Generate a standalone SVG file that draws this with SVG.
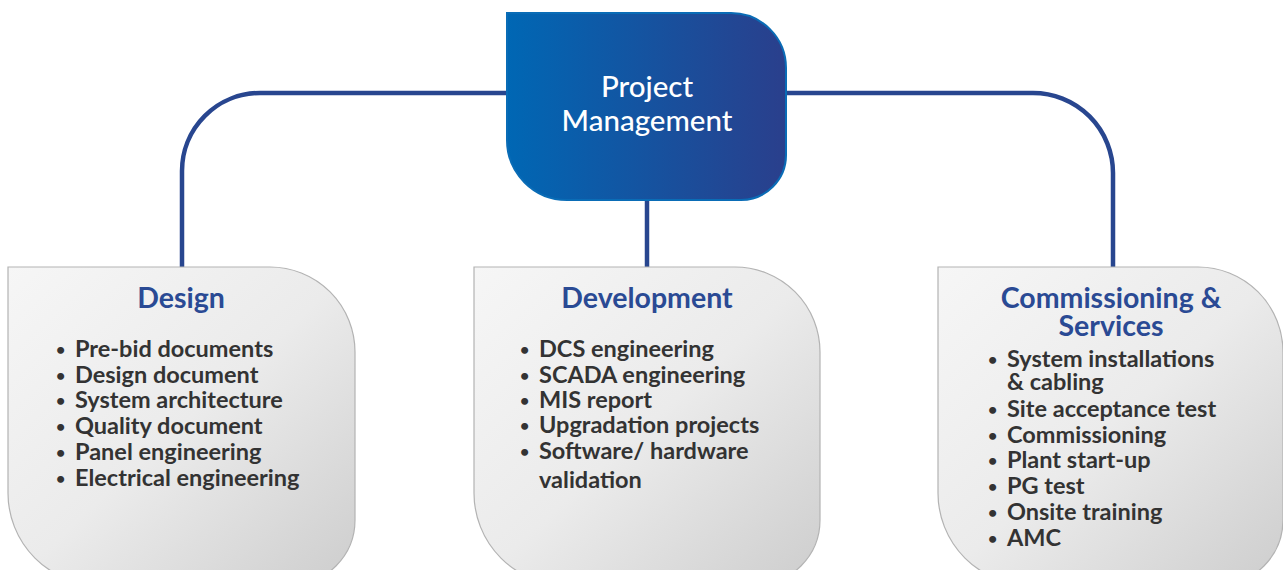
<svg xmlns="http://www.w3.org/2000/svg" width="1283" height="570" viewBox="0 0 1283 570">
<defs>
<linearGradient id="gTop" x1="0" y1="0" x2="1" y2="0">
<stop offset="0" stop-color="#0067b4"/>
<stop offset="1" stop-color="#2a3f8c"/>
</linearGradient>
<linearGradient id="gBox" x1="0" y1="0" x2="1" y2="1">
<stop offset="0" stop-color="#f6f6f6"/>
<stop offset="0.5" stop-color="#ebebeb"/>
<stop offset="1" stop-color="#cdcdcd"/>
</linearGradient>
<style>
.conn{fill:none;stroke:#28468f;stroke-width:4.5}
.box{fill:url(#gBox);stroke:#b3b3b3;stroke-width:1.2}
.title{font-family:Lato,"Liberation Sans",sans-serif;font-weight:bold;font-size:28.5px;fill:#2a4a94;text-anchor:middle}
.item{font-family:Lato,"Liberation Sans",sans-serif;font-weight:bold;font-size:23.5px;fill:#333333}
.b{font-size:16px}
.top{font-family:Lato,"Liberation Sans",sans-serif;font-weight:500;font-size:29.5px;fill:#ffffff;text-anchor:middle}
</style>
</defs>
<rect width="1283" height="570" fill="#ffffff"/>
<g id="connectors">
<path class="conn" d="M507,93 H260 A78,78 0 0 0 182,171 V268"/>
<path class="conn" d="M786,93 H1033 A80,80 0 0 1 1113,173 V268"/>
<path class="conn" d="M647,200 V268"/>
</g>
<g id="node-pm">
<path d="M507,13 H731 A55,55 0 0 1 786,68 V155 A45,45 0 0 1 741,200 H567 A60,60 0 0 1 507,140 Z" fill="url(#gTop)" stroke="#0a6cb6" stroke-width="2"/>
<text class="top" x="647" y="97">Project</text>
<text class="top" x="647" y="131">Management</text>
</g>
<g id="node-design">
<path class="box" d="M8,267 H270 A85,85 0 0 1 355,352 V520 A65,65 0 0 1 290,585 H100 A92,92 0 0 1 8,493 Z"/>
<text class="title" x="181" y="308">Design</text>
<g class="item">
<text class="b" x="56" y="355">•</text><text x="75" y="357">Pre-bid documents</text>
<text class="b" x="56" y="381">•</text><text x="75" y="383">Design document</text>
<text class="b" x="56" y="406">•</text><text x="75" y="408">System architecture</text>
<text class="b" x="56" y="432">•</text><text x="75" y="434">Quality document</text>
<text class="b" x="56" y="458">•</text><text x="75" y="460">Panel engineering</text>
<text class="b" x="56" y="484">•</text><text x="75" y="486">Electrical engineering</text>
</g>
</g>
<g id="node-development">
<path class="box" d="M474,267 H735 A85,85 0 0 1 820,352 V520 A65,65 0 0 1 755,585 H566 A92,92 0 0 1 474,493 Z"/>
<text class="title" x="647" y="308">Development</text>
<g class="item">
<text class="b" x="520" y="355">•</text><text x="539" y="357">DCS engineering</text>
<text class="b" x="520" y="381">•</text><text x="539" y="383">SCADA engineering</text>
<text class="b" x="520" y="406">•</text><text x="539" y="408">MIS report</text>
<text class="b" x="520" y="431">•</text><text x="539" y="433">Upgradation projects</text>
<text class="b" x="520" y="457">•</text><text x="539" y="459">Software/ hardware</text>
<text x="539" y="488">validation</text>
</g>
</g>
<g id="node-commissioning">
<path class="box" d="M938,267 H1198 A85,85 0 0 1 1283,352 V520 A65,65 0 0 1 1218,585 H1030 A92,92 0 0 1 938,493 Z"/>
<text class="title" x="1111" y="308">Commissioning &amp;</text>
<text class="title" x="1111" y="336">Services</text>
<g class="item">
<text class="b" x="988" y="365">•</text><text x="1007" y="367">System installations</text>
<text x="1007" y="390">&amp; cabling</text>
<text class="b" x="988" y="415">•</text><text x="1007" y="417">Site acceptance test</text>
<text class="b" x="988" y="441">•</text><text x="1007" y="443">Commissioning</text>
<text class="b" x="988" y="466">•</text><text x="1007" y="468">Plant start-up</text>
<text class="b" x="988" y="492">•</text><text x="1007" y="494">PG test</text>
<text class="b" x="988" y="518">•</text><text x="1007" y="520">Onsite training</text>
<text class="b" x="988" y="544">•</text><text x="1007" y="546">AMC</text>
</g>
</g>
</svg>
